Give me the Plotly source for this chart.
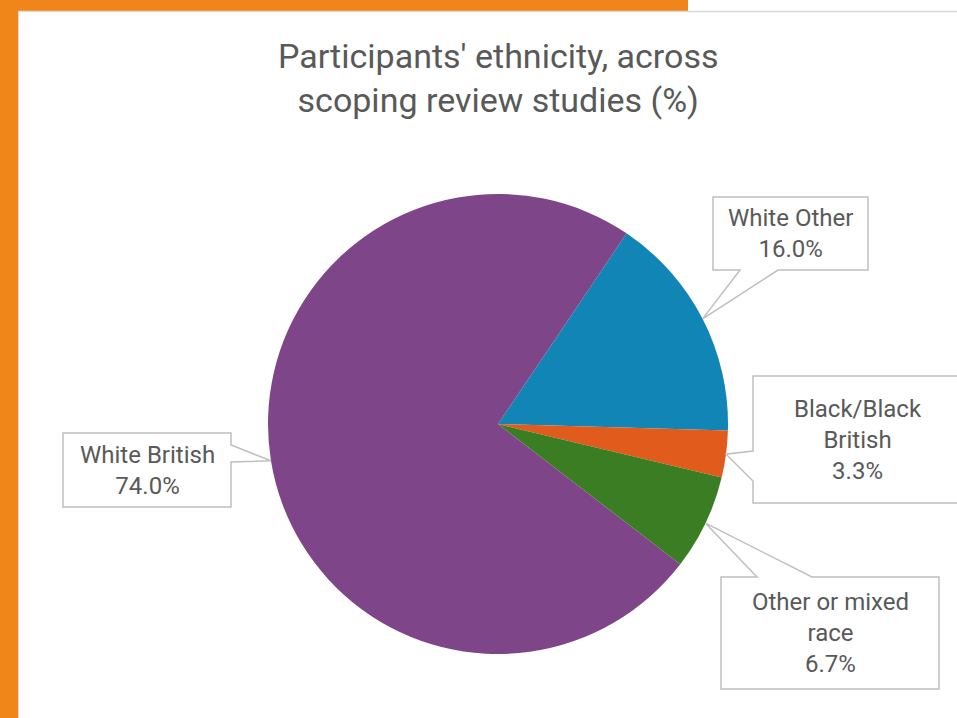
import math
import plotly.graph_objects as go

# Data
categories = ["White Other", "Black/Black British", "Other or mixed race", "White British"]
label_lines = ["White Other", "Black/Black<br>British", "Other or mixed<br>race", "White British"]
shares = [16.0, 3.3, 6.7, 74.0]
colors = ["#1185B6", "#E05B1C", "#3B7D23", "#7E4688"]

W, H = 957, 718
CX, CY, R = 498, 424, 230       # pie centre and radius (px)
ROTATION = 34                   # first slice starts 34 deg clockwise from 12 o'clock


def px(x):
    return x / W


def py(y):
    return 1 - y / H


fig = go.Figure()
fig.add_trace(go.Pie(
    labels=categories,
    values=shares,
    marker=dict(colors=colors, line=dict(width=0)),
    sort=False,
    direction="clockwise",
    rotation=ROTATION,
    textinfo="none",
    hovertemplate="%{label}: %{value:.1f}%<extra></extra>",
    domain=dict(x=[px(CX - R), px(CX + R)], y=[py(CY + R), py(CY - R)]),
    showlegend=False,
))

# Callout boxes (x0, y0, x1, y1) in px and the side that carries the pointer
boxes = [
    dict(box=(713, 197, 868, 270), side="bottom", base=(740, 778)),
    dict(box=(753, 376, 962, 503), side="left", base=(451, 481)),
    dict(box=(721, 577, 939, 689), side="top", base=(757, 812)),
    dict(box=(63, 433, 231, 507), side="right", base=(445, 462)),
]

total = sum(shares)
cum = 0.0
shapes = []
annotations = []
for name, lines, v, b in zip(categories, label_lines, shares, boxes):
    mid = ROTATION + (cum + v / 2) / total * 360
    cum += v
    tx = CX + R * math.sin(math.radians(mid))
    ty = CY - R * math.cos(math.radians(mid))
    x0, y0, x1, y1 = b["box"]
    a, c = b["base"]
    if b["side"] == "bottom":
        pts = [(x0, y0), (x1, y0), (x1, y1), (c, y1), (tx, ty), (a, y1), (x0, y1)]
    elif b["side"] == "top":
        pts = [(x0, y0), (a, y0), (tx, ty), (c, y0), (x1, y0), (x1, y1), (x0, y1)]
    elif b["side"] == "left":
        pts = [(x0, y0), (x1, y0), (x1, y1), (x0, y1), (x0, c), (tx, ty), (x0, a)]
    else:
        pts = [(x0, y0), (x1, y0), (x1, a), (tx, ty), (x1, c), (x1, y1), (x0, y1)]
    path = "M " + " L ".join(f"{px(x):.5f},{py(y):.5f}" for x, y in pts) + " Z"
    shapes.append(dict(type="path", xref="paper", yref="paper", path=path,
                       fillcolor="white", line=dict(color="#BFBFBF", width=1.5)))
    annotations.append(dict(
        x=px((x0 + x1) / 2), y=py((y0 + y1) / 2), xref="paper", yref="paper",
        text=f"{lines}<br>{v:.1f}%", showarrow=False, align="center",
        xanchor="center", yanchor="middle",
        font=dict(family="Roboto", size=24, color="#595959"),
    ))

# Page frame: orange bands with a thin grey edge
shapes = [
    dict(type="rect", xref="paper", yref="paper", x0=0, x1=px(18), y0=0, y1=1,
         fillcolor="#F0861A", line=dict(width=0), layer="below"),
    dict(type="rect", xref="paper", yref="paper", x0=0, x1=px(688), y0=py(11), y1=1,
         fillcolor="#F0861A", line=dict(width=0), layer="below"),
    dict(type="line", xref="paper", yref="paper", x0=px(18), x1=1, y0=py(11.5), y1=py(11.5),
         line=dict(color="#DADADA", width=1.5), layer="below"),
    dict(type="line", xref="paper", yref="paper", x0=px(18.5), x1=px(18.5), y0=0, y1=py(11),
         line=dict(color="#DADADA", width=1), layer="below"),
] + shapes

annotations.append(dict(
    x=px(498), y=py(78), xref="paper", yref="paper",
    text="Participants' ethnicity, across<br>scoping review studies (%)",
    showarrow=False, align="center", xanchor="center", yanchor="middle",
    font=dict(family="Roboto", size=34, color="#595959"),
))

fig.update_layout(
    width=W, height=H,
    margin=dict(l=0, r=0, t=0, b=0),
    paper_bgcolor="white",
    plot_bgcolor="white",
    shapes=shapes,
    annotations=annotations,
)

fig.write_html("out.html")
